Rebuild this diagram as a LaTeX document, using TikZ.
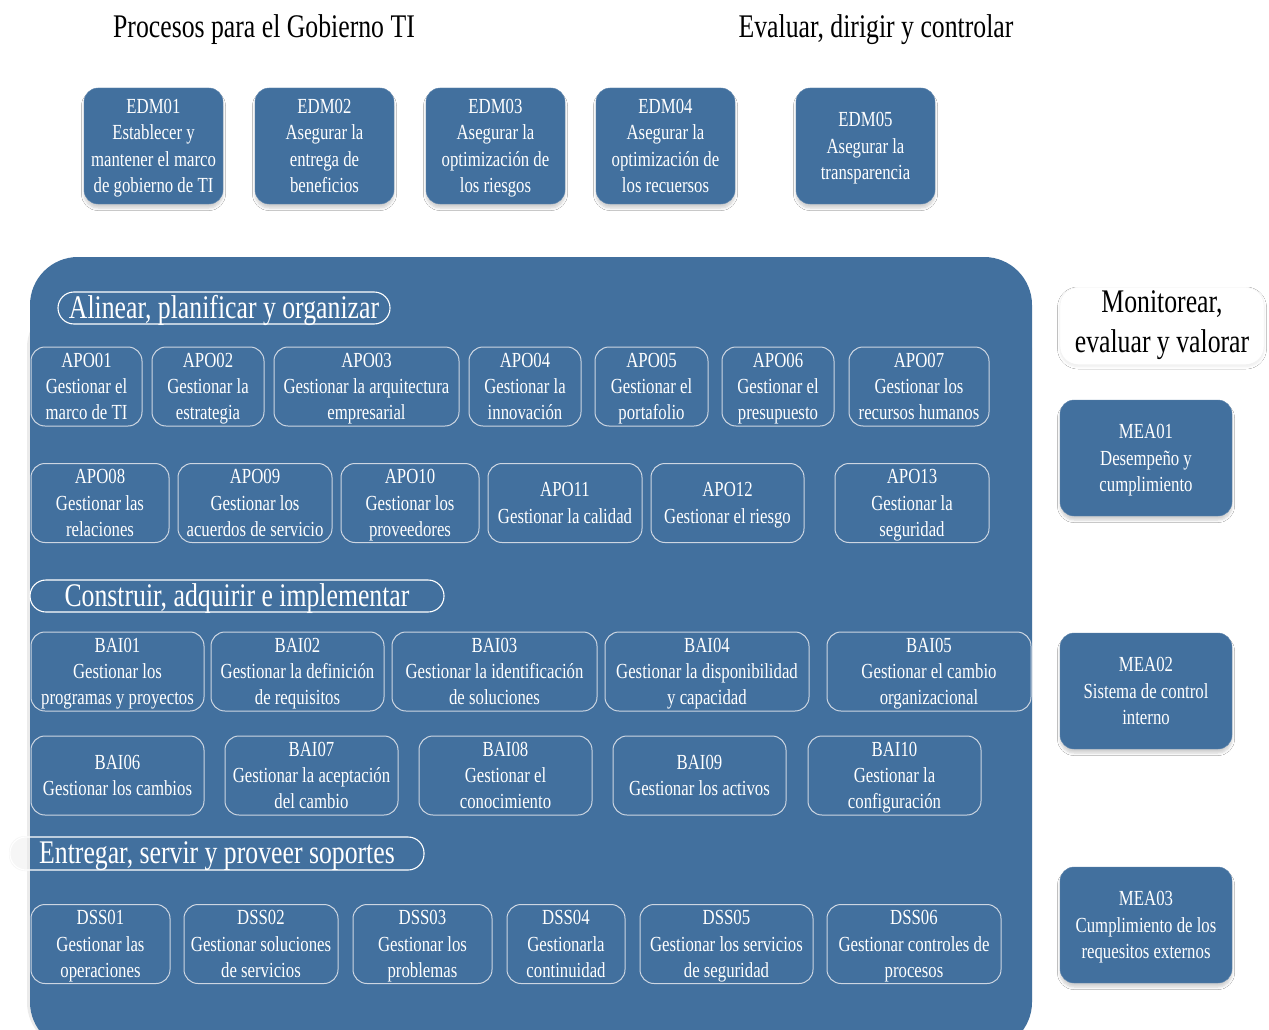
\documentclass[tikz,border=0pt]{standalone}
\usepackage{fontspec}
\setmainfont{Liberation Serif}[FakeStretch=0.78]
\usetikzlibrary{shadows.blur}

\definecolor{cobit}{RGB}{66,112,158}
\definecolor{procline}{RGB}{205,214,226}

\newcommand\procfont{\fontsize{21.5}{26.3}\selectfont}
\newcommand\headingfont{\fontsize{33}{40}\selectfont}
\newcommand\headingstrut{\rule[-9pt]{0pt}{40pt}}

\tikzset{
  softshadow/.style={blur shadow={shadow xshift=0pt, shadow yshift=-4pt,
      shadow blur steps=6, shadow blur radius=2.5pt, shadow opacity=18}},
  headstruts/.style={execute at begin node=\headingstrut, execute at end node=\headingstrut},
  edmbox/.style={fill=cobit, draw=cobit!85!white, rounded corners=14pt,
      text=white, align=center, font=\procfont, inner sep=0pt, text depth=0pt,
      minimum width=139pt, minimum height=116pt, softshadow},
  meabox/.style={edmbox, minimum width=172pt},
  proc/.style={draw=procline, line width=1pt, rounded corners=14pt,
      text=white, align=center, font=\procfont, inner sep=0pt, text depth=0pt,
      minimum height=79pt},
  domain/.style={draw=white, line width=1.1pt, rounded corners=16pt,
      text=white, font=\headingfont, inner sep=0pt,
      text height=24pt, text depth=4pt,
      minimum height=32pt, minimum width=#1},
  heading/.style={font=\headingfont, text=black, align=center, inner sep=0pt, headstruts}
}

\begin{document}
\begin{tikzpicture}[x=1pt, y=-1pt]
\useasboundingbox[fill=white] (0,0) rectangle (1269,1030);

% headings of the governance area
\node[heading] (tgob) at (264,27) {Procesos para el Gobierno TI};
\node[heading] (tedm) at (876,27) {Evaluar, dirigir y controlar};

% EDM processes
\node[edmbox] (edm01) at (153.5,146) {EDM01\\Establecer y\\mantener el marco\\de gobierno de TI};
\node[edmbox] (edm02) at (324.5,146) {EDM02\\Asegurar la\\entrega de\\beneficios};
\node[edmbox] (edm03) at (495.5,146) {EDM03\\Asegurar la\\optimización de\\los riesgos};
\node[edmbox] (edm04) at (665.5,146) {EDM04\\Asegurar la\\optimización de\\los recuersos};
\node[edmbox] (edm05) at (865.5,146) {EDM05\\Asegurar la\\transparencia};

% faint halo of the DSS label where it leaves the container
\fill[gray!7, rounded corners=16pt] (9,836) rectangle (60,871);

% management area container
\fill[gray!16, rounded corners=48pt] (27,300) rectangle (1032,1050);
\fill[cobit, rounded corners=48pt] (30,257) rectangle (1032,1050);

% domain labels
\node[domain=332pt] (apo) at (224,308) {Alinear, planificar y organizar};
\node[domain=414pt] (bai) at (237,596) {Construir, adquirir e implementar};
\node[domain=414pt, minimum height=33pt] (dss) at (217,853.5) {Entregar, servir y proveer soportes};

% APO processes
\node[proc, minimum width=111pt] (apo01) at (86.5,386.5) {APO01\\Gestionar el\\marco de TI};
\node[proc, minimum width=112pt] (apo02) at (208,386.5) {APO02\\Gestionar la\\estrategia};
\node[proc, minimum width=185pt] (apo03) at (366.5,386.5) {APO03\\Gestionar la arquitectura\\empresarial};
\node[proc, minimum width=112pt] (apo04) at (525,386.5) {APO04\\Gestionar la\\innovación};
\node[proc, minimum width=113pt] (apo05) at (651.5,386.5) {APO05\\Gestionar el\\portafolio};
\node[proc, minimum width=112pt] (apo06) at (778,386.5) {APO06\\Gestionar el\\presupuesto};
\node[proc, minimum width=140pt] (apo07) at (919,386.5) {APO07\\Gestionar los\\recursos humanos};

\node[proc, minimum width=138pt] (apo08) at (100,503) {APO08\\Gestionar las\\relaciones};
\node[proc, minimum width=154pt] (apo09) at (255,503) {APO09\\Gestionar los\\acuerdos de servicio};
\node[proc, minimum width=138pt] (apo10) at (410,503) {APO10\\Gestionar los\\proveedores};
\node[proc, minimum width=154pt] (apo11) at (565,503) {APO11\\Gestionar la calidad};
\node[proc, minimum width=153pt] (apo12) at (727.5,503) {APO12\\Gestionar el riesgo};
\node[proc, minimum width=154pt] (apo13) at (912,503) {APO13\\Gestionar la\\seguridad};

% BAI processes
\node[proc, minimum width=173pt] (bai01) at (117.5,671.5) {BAI01\\Gestionar los\\programas y proyectos};
\node[proc, minimum width=173pt] (bai02) at (297.5,671.5) {BAI02\\Gestionar la definición\\de requisitos};
\node[proc, minimum width=205pt] (bai03) at (494.5,671.5) {BAI03\\Gestionar la identificación\\de soluciones};
\node[proc, minimum width=204pt] (bai04) at (707,671.5) {BAI04\\Gestionar la disponibilidad\\y capacidad};
\node[proc, minimum width=204pt] (bai05) at (929,671.5) {BAI05\\Gestionar el cambio\\organizacional};

\node[proc, minimum width=173pt] (bai06) at (117.5,775.5) {BAI06\\Gestionar los cambios};
\node[proc, minimum width=173pt] (bai07) at (311.5,775.5) {BAI07\\Gestionar la aceptación\\del cambio};
\node[proc, minimum width=173pt] (bai08) at (505.5,775.5) {BAI08\\Gestionar el\\conocimiento};
\node[proc, minimum width=173pt] (bai09) at (699.5,775.5) {BAI09\\Gestionar los activos};
\node[proc, minimum width=173pt] (bai10) at (894.5,775.5) {BAI10\\Gestionar la\\configuración};

% DSS processes
\node[proc, minimum width=139pt] (dss01) at (100.5,944) {DSS01\\Gestionar las\\operaciones};
\node[proc, minimum width=154pt] (dss02) at (261,944) {DSS02\\Gestionar soluciones\\de servicios};
\node[proc, minimum width=139pt] (dss03) at (422.5,944) {DSS03\\Gestionar los\\problemas};
\node[proc, minimum width=118pt] (dss04) at (566,944) {DSS04\\Gestionarla\\continuidad};
\node[proc, minimum width=173pt] (dss05) at (726.5,944) {DSS05\\Gestionar los servicios\\de seguridad};
\node[proc, minimum width=174pt] (dss06) at (914,944) {DSS06\\Gestionar controles de\\procesos};

% MEA area
\node[heading, fill=white, draw=gray!10, rounded corners=18pt,
      minimum width=204pt, minimum height=77pt,
      blur shadow={shadow xshift=0pt, shadow yshift=-2pt, shadow blur steps=6,
      shadow blur radius=2.5pt, shadow opacity=8}] (tmea) at (1162,326)
  {Monitorear,\\evaluar y valorar};
\node[meabox] (mea01) at (1146,458) {MEA01\\Desempeño y\\cumplimiento};
\node[meabox] (mea02) at (1146,691) {MEA02\\Sistema de control\\interno};
\node[meabox] (mea03) at (1146,925) {MEA03\\Cumplimiento de los\\requesitos externos};
\end{tikzpicture}
\end{document}
